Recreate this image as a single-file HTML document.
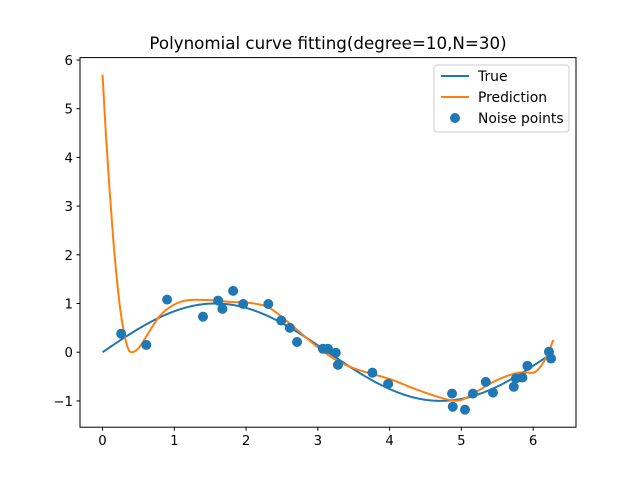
<!DOCTYPE html>
<html><head><meta charset="utf-8"><style>
body{margin:0;background:#fff}
svg{font-family:"DejaVu Sans","Liberation Sans",sans-serif}
</style></head><body>
<svg id="chart" width="640" height="480">
<text x="328" y="49" text-anchor="middle" font-size="16.7">Polynomial curve fitting(degree=10,N=30)</text>
<g id="plot"></g>
<rect x="80" y="57.6" width="496" height="369.6" fill="none" stroke="#000" stroke-width="1"/>
<g>
<rect x="434" y="65" width="135" height="67" rx="3" fill="#fff" fill-opacity="0.8" stroke="#ccc"/>
<line x1="441" y1="76" x2="469" y2="76" stroke="#1f77b4" stroke-width="2"/>
<text x="478" y="81" font-size="13.9">True</text>
<line x1="441" y1="97" x2="469" y2="97" stroke="#ff7f0e" stroke-width="2"/>
<text x="478" y="102" font-size="13.9">Prediction</text>
<circle cx="455" cy="118" r="5" fill="#1f77b4"/>
<text x="478" y="123" font-size="13.9">Noise points</text>
</g>
</svg>
<script>
const xTicks=[0,1,2,3,4,5,6];
const yTicks=[-1,0,1,2,3,4,5,6];
const noiseX=[0.26,0.61,0.90,1.40,1.61,1.67,1.82,1.96,2.31,2.49,2.61,2.71,3.07,3.14,3.25,3.28,3.76,3.98,4.87,4.88,5.05,5.16,5.34,5.44,5.73,5.76,5.85,5.92,6.22,6.25];
const noiseY=[0.38,0.15,1.08,0.73,1.06,0.89,1.26,0.99,0.99,0.65,0.50,0.21,0.07,0.07,-0.01,-0.26,-0.42,-0.65,-0.85,-1.12,-1.18,-0.85,-0.61,-0.83,-0.71,-0.54,-0.52,-0.28,0.01,-0.13];
const predX=[0,0.05,0.1,0.15,0.2,0.25,0.3,0.35,0.4,0.5,0.6,0.8,1.0,1.2,1.5,1.8,2.0,2.3,2.6,3.0,3.3,3.6,4.0,4.4,4.8,5.0,5.2,5.5,5.8,6.0,6.1,6.2,6.28];
const predY=[5.7,4.4,3.3,2.3,1.5,0.85,0.4,0.1,0.0,0.08,0.3,0.75,0.98,1.07,1.07,1.03,1.02,0.93,0.6,0.1,-0.2,-0.38,-0.55,-0.78,-0.97,-0.98,-0.82,-0.57,-0.42,-0.42,-0.3,-0.05,0.25];
const NS="http://www.w3.org/2000/svg";
const xmin=-0.314,xmax=6.597,ymin=-1.54,ymax=6.05;
const X=v=>80+(v-xmin)/(xmax-xmin)*496;
const Y=v=>427.2-(v-ymin)/(ymax-ymin)*369.6;
const g=document.getElementById('plot');
function mk(t,a){const e=document.createElementNS(NS,t);for(const k in a)e.setAttribute(k,a[k]);g.appendChild(e);return e;}
xTicks.forEach(t=>{
 const l=mk('line',{x1:X(t),x2:X(t),y1:427.2,y2:430.7,stroke:'#000'});
 
 
 const s=mk('text',{x:X(t),y:445,'text-anchor':'middle','font-size':'13.3'});s.textContent=t;
 
 
});
yTicks.forEach(t=>{
 const l=mk('line',{x1:76.5,x2:80,y1:Y(t),y2:Y(t),stroke:'#000'});
 
 
 const s=mk('text',{x:73,y:Y(t)+5,'text-anchor':'end','font-size':'13.3'});s.textContent=t<0?'\u2212'+(-t):t;
 
 
});
let d='';for(let i=0;i<=300;i++){const x=2*Math.PI*i/300;d+=(i?'L':'M')+X(x).toFixed(2)+','+Y(Math.sin(x)).toFixed(2);}
const tl=mk('path',{d:d,fill:'none',stroke:'#1f77b4','stroke-width':2});


const P=predX.map((x,i)=>[X(x),Y(predY[i])]);
let pd='M'+P[0][0]+','+P[0][1];
for(let i=0;i<P.length-1;i++){const p0=P[i-1]||P[i],p1=P[i],p2=P[i+1],p3=P[i+2]||P[i+1];
 pd+=`C${p1[0]+(p2[0]-p0[0])/6},${p1[1]+(p2[1]-p0[1])/6} ${p2[0]-(p3[0]-p1[0])/6},${p2[1]-(p3[1]-p1[1])/6} ${p2[0]},${p2[1]}`;}
const pl=mk('path',{d:pd,fill:'none',stroke:'#ff7f0e','stroke-width':2});


noiseX.forEach((x,i)=>{
 const c=mk('circle',{cx:X(x),cy:Y(noiseY[i]),r:5,fill:'#1f77b4'});
 
 
});
</script>
</body></html>
